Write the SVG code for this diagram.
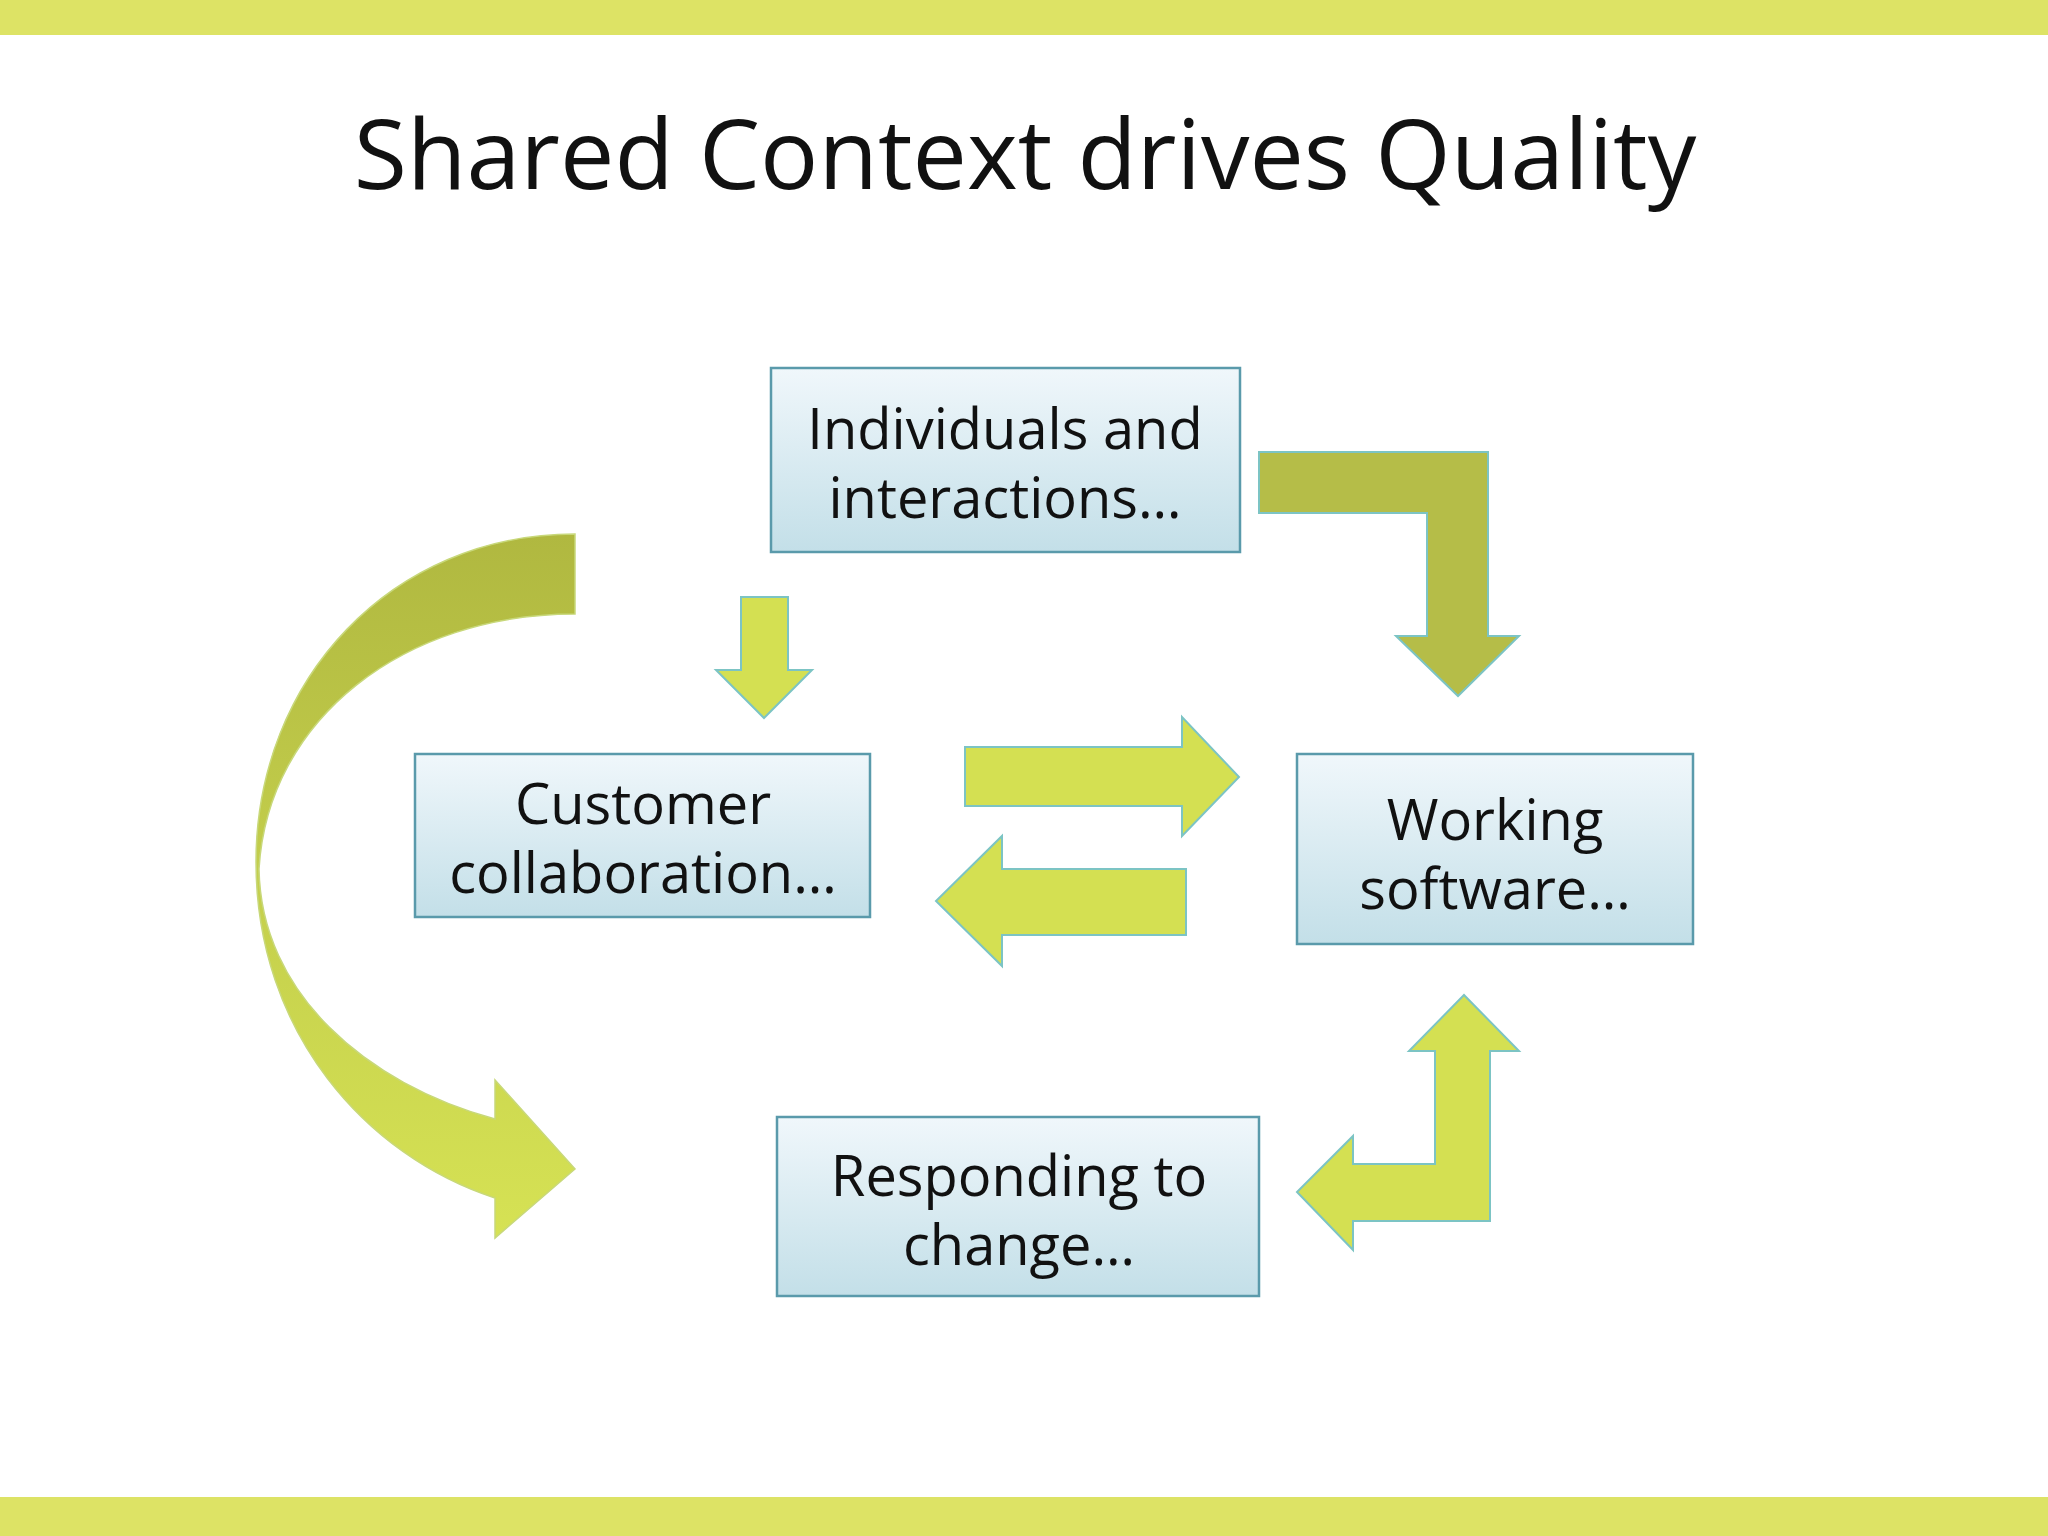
<svg xmlns="http://www.w3.org/2000/svg" width="2048" height="1536" viewBox="0 0 2048 1536">
<defs>
<linearGradient id="box" x1="0" y1="0" x2="0" y2="1"><stop offset="0" stop-color="#f0f7fb"/><stop offset="1" stop-color="#c3dfe8"/></linearGradient>
<linearGradient id="curve" x1="0" y1="0" x2="0" y2="1"><stop offset="0" stop-color="#b0b840"/><stop offset="0.5" stop-color="#c4cf4c"/><stop offset="1" stop-color="#d6e254"/></linearGradient>
<style>
.box{fill:url(#box);stroke:#5a9aab;stroke-width:2.5}
.t{font-family:"Open Sans","Noto Sans",sans-serif;font-size:56px;fill:#111;text-anchor:middle}
.lg{fill:#d4e052;stroke:#7cc4c4;stroke-width:2}
.dk{fill:#b5bd48;stroke:#7cc4c4;stroke-width:2}
</style>
</defs>
<rect width="2048" height="1536" fill="#fff"/>
<rect x="0" y="0" width="2048" height="35" fill="#dde365"/>
<rect x="0" y="1497" width="2048" height="39" fill="#dde365"/>
<text x="1025" y="189" font-family="'Open Sans','Noto Sans',sans-serif" font-size="97" text-anchor="middle" fill="#111">Shared Context drives Quality</text>
<g id="connectors">
<polygon class="dk" points="1259,452 1488,452 1488,636 1519,636 1458,696 1396,636 1427,636 1427,513 1259,513"/>
<polygon class="lg" points="741,597 788,597 788,670 812,670 764,718 716,670 741,670"/>
<polygon class="lg" points="965,747 1182,747 1182,717 1239,777 1182,836 1182,806 965,806"/>
<polygon class="lg" points="1186,869 1002,869 1002,836 936,901 1002,966 1002,935 1186,935"/>
<polygon class="lg" points="1435,1051 1409,1051 1464,995 1519,1051 1490,1051 1490,1221 1353,1221 1353,1250 1297,1192 1353,1136 1353,1164 1435,1164"/>
<path fill="url(#curve)" stroke="#c8d87a" stroke-width="1.5" d="M575,534 C392,534 256,679 256,862 C256,1032 366,1156 495,1198 L495,1238 L575,1169 L495,1080 L495,1119 C366,1084 261,993 259,869 C268,718 405,614 575,614 Z"/>
</g>
<g id="individuals"><rect class="box" x="771" y="368" width="469" height="184"/><text class="t" x="1005" y="449">Individuals and</text><text class="t" x="1005" y="518">interactions…</text></g>
<g id="customer"><rect class="box" x="415" y="754" width="455" height="163"/><text class="t" x="643" y="824">Customer</text><text class="t" x="643" y="893">collaboration…</text></g>
<g id="working"><rect class="box" x="1297" y="754" width="396" height="190"/><text class="t" x="1495" y="840">Working</text><text class="t" x="1495" y="909">software…</text></g>
<g id="responding"><rect class="box" x="777" y="1117" width="482" height="179"/><text class="t" x="1019" y="1196">Responding to</text><text class="t" x="1019" y="1265">change…</text></g>
</svg>
